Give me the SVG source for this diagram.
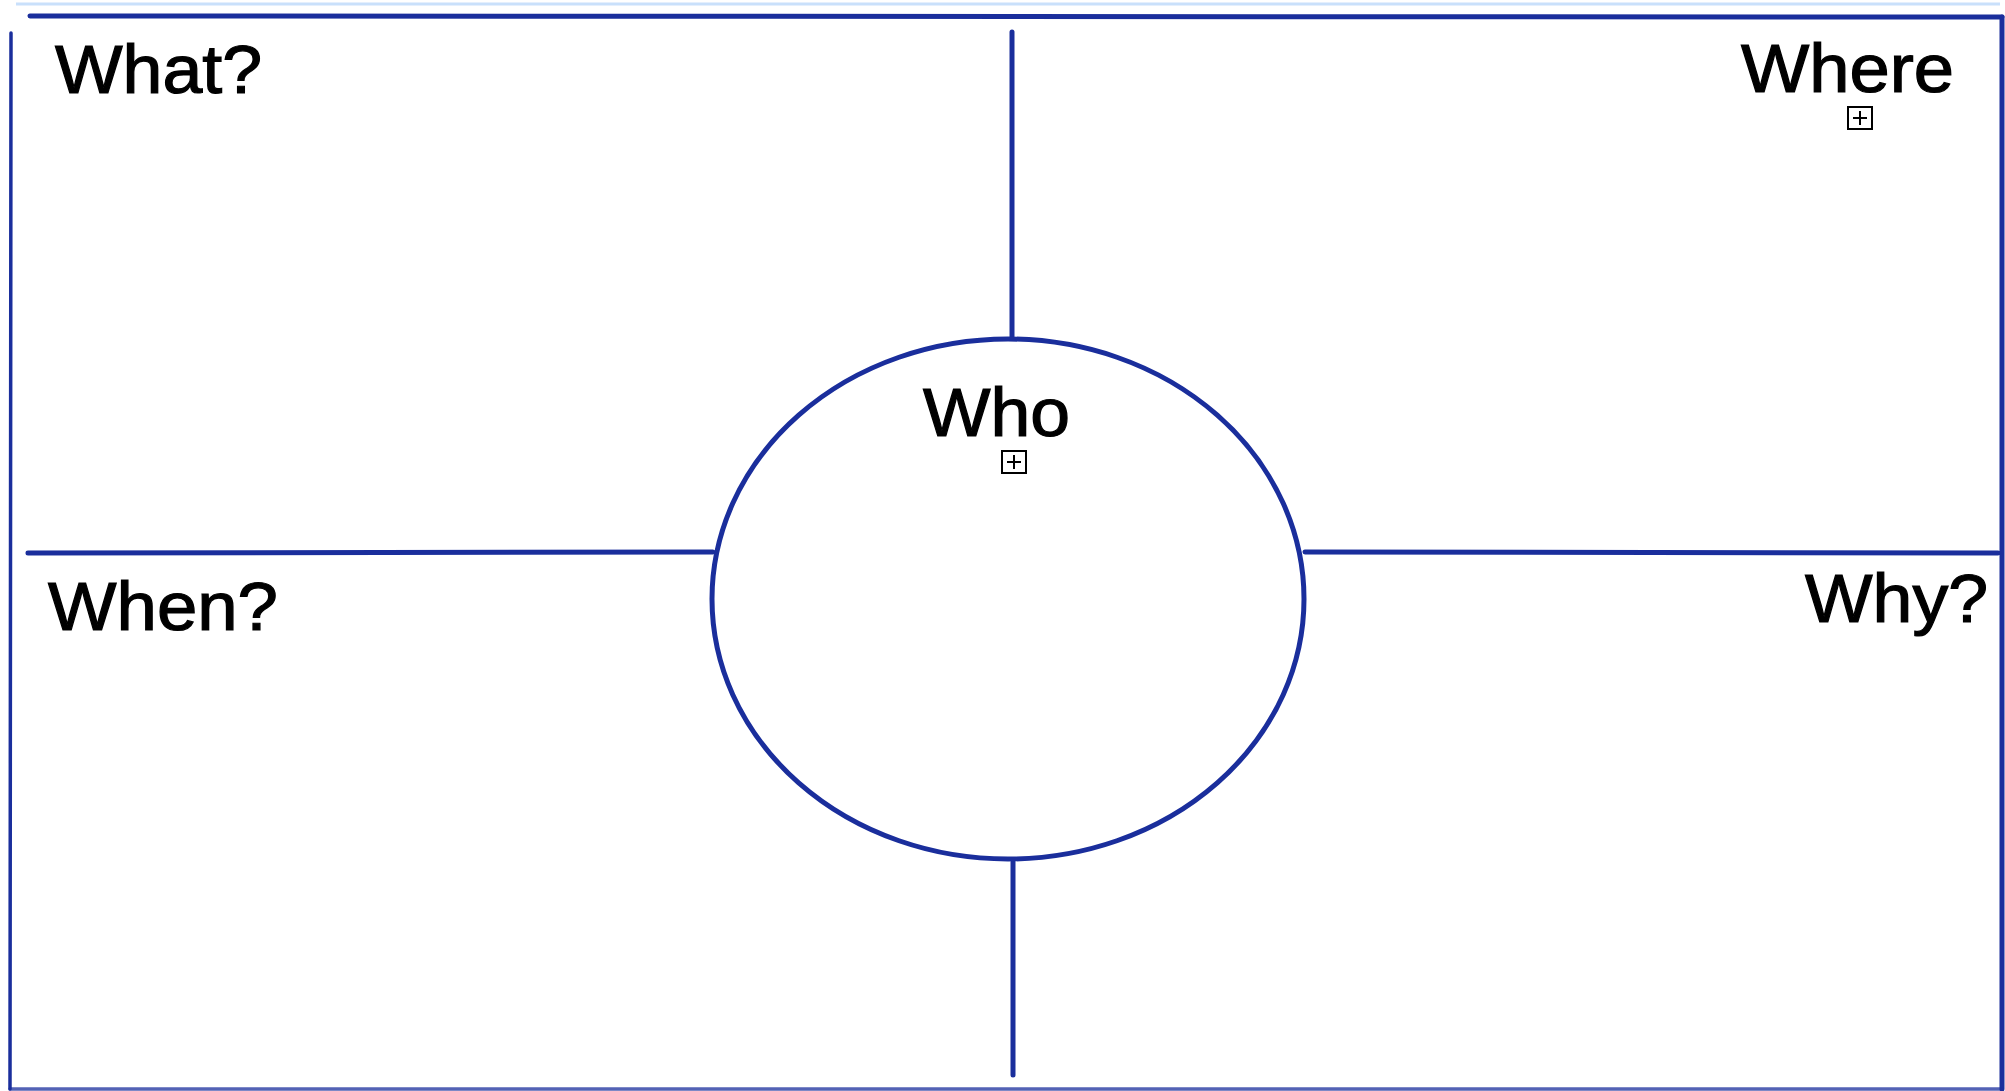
<svg xmlns="http://www.w3.org/2000/svg" width="2005" height="1091" viewBox="0 0 2005 1091">
<style>
.frame{fill:none;stroke:#1a2e9c;stroke-linecap:round}
.conn{fill:none;stroke:#1a2e9c;stroke-width:5;stroke-linecap:round}
.lbl{font-family:"Liberation Sans",Arial,Helvetica,sans-serif;font-size:68px;fill:#000;stroke:#000;stroke-width:1.2}
</style>
<defs>
<g id="plus">
<rect x="0" y="0" width="24" height="22" fill="#fff" stroke="#000" stroke-width="2"/>
<path d="M5 11 H19 M12 4 V18" stroke="#000" stroke-width="2" fill="none"/>
</g>
</defs>
<rect width="2005" height="1091" fill="#fff"/>
<line x1="16" y1="4" x2="2000" y2="4" stroke="#c9e0fb" stroke-width="3"/>
<g id="frame">
<path class="frame" d="M30 16 L2002 17" stroke-width="5"/>
<path class="frame" d="M2002 17 L2002 1089" stroke-width="5"/>
<path class="frame" d="M11 33 L10 1089" stroke-width="3.5"/>
<path class="frame" d="M10 1089 L2002 1089" stroke-width="3.5" opacity="0.75"/>
</g>
<g id="connectors">
<line class="conn" x1="1012" y1="32" x2="1012" y2="338"/>
<line class="conn" x1="1013" y1="862" x2="1013" y2="1075"/>
<line class="conn" x1="28" y1="553" x2="713" y2="552"/>
<line class="conn" x1="1305" y1="552" x2="1998" y2="553"/>
</g>
<g id="who">
<ellipse cx="1008" cy="599" rx="296" ry="260" fill="#fff" stroke="#1a2e9c" stroke-width="5"/>
<text class="lbl" x="923" y="436" textLength="147" lengthAdjust="spacingAndGlyphs">Who</text>
<use href="#plus" x="1002" y="451"/>
</g>
<g id="what">
<text class="lbl" x="55" y="93" textLength="207" lengthAdjust="spacingAndGlyphs">What?</text>
</g>
<g id="where">
<text class="lbl" x="1741" y="92" textLength="213" lengthAdjust="spacingAndGlyphs">Where</text>
<use href="#plus" x="1848" y="107"/>
</g>
<g id="when">
<text class="lbl" x="48" y="630" textLength="230" lengthAdjust="spacingAndGlyphs">When?</text>
</g>
<g id="why">
<text class="lbl" x="1805" y="622" textLength="183" lengthAdjust="spacingAndGlyphs">Why?</text>
</g>
</svg>
